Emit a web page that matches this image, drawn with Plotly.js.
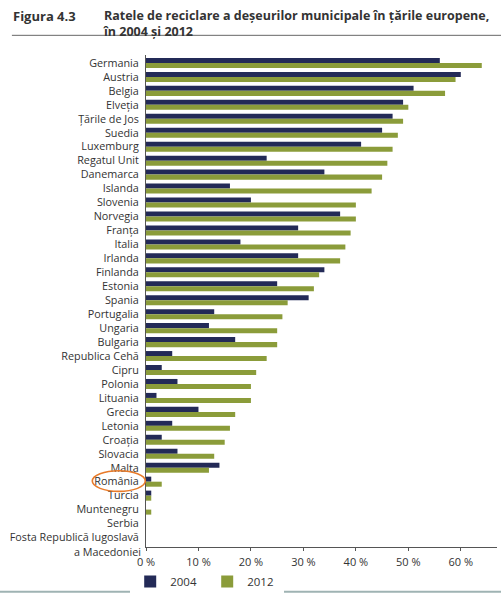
<!DOCTYPE html>
<html>
<head>
<meta charset="utf-8">
<script src="https://cdn.plot.ly/plotly-3.0.1.min.js"></script>
<style>
  html, body { margin: 0; padding: 0; background: #fff; }
  #chart { width: 501px; height: 600px; }
</style>
</head>
<body>
<div id="chart"></div>
<script>
// Countries, top to bottom
var countries = [
  "Germania", "Austria", "Belgia", "Elveția", "Țările de Jos", "Suedia",
  "Luxemburg", "Regatul Unit", "Danemarca", "Islanda", "Slovenia", "Norvegia",
  "Franța", "Italia", "Irlanda", "Finlanda", "Estonia", "Spania", "Portugalia",
  "Ungaria", "Bulgaria", "Republica Cehă", "Cipru", "Polonia", "Lituania",
  "Grecia", "Letonia", "Croația", "Slovacia", "Malta", "România", "Turcia",
  "Muntenegru", "Serbia", "Fosta Republică Iugoslavă a Macedoniei"
];

// Recycling rates (%)
var rate2004 = [56, 60, 51, 49, 47, 45, 41, 23, 34, 16, 20, 37, 29, 18, 29, 34,
  25, 31, 13, 12, 17, 5, 3, 6, 2, 10, 5, 3, 6, 14, 1, 1, 0, 0, 0];
var rate2012 = [64, 59, 57, 50, 49, 48, 47, 46, 45, 43, 40, 40, 39, 38, 37, 33,
  32, 27, 26, 25, 25, 23, 21, 20, 20, 17, 16, 15, 13, 12, 3, 1, 1, 0, 0];

var seriesNames = ["2004", "2012"];
var xTicks = [0, 10, 20, 30, 40, 50, 60];
var xTickText = xTicks.map(function (v) { return v + " %"; });

// the long last name is wrapped: first line as tick label, second as a note
var lastIdx = countries.length - 1;
var yTickText = countries.slice();
yTickText[lastIdx] = "Fosta Republică Iugoslavă";
var lastLine2 = "a Macedoniei";

var navy = "#232a57";
var green = "#8b9c3a";
var textColor = "#333333";
var labelSize = 10.8;

var data = [
  {
    type: "bar",
    orientation: "h",
    name: seriesNames[0],
    y: countries,
    x: rate2004,
    marker: {color: navy},
    hoverinfo: "x+y"
  },
  {
    type: "bar",
    orientation: "h",
    name: seriesNames[1],
    y: countries,
    x: rate2012,
    marker: {color: green},
    hoverinfo: "x+y"
  }
];

var layout = {
  width: 501,
  height: 600,
  margin: {l: 146, r: 4, t: 55, b: 49},
  paper_bgcolor: "#ffffff",
  plot_bgcolor: "#ffffff",
  font: {family: "Open Sans, sans-serif", size: 11, color: textColor},
  barmode: "group",
  bargap: 0.28,
  bargroupgap: 0,
  showlegend: true,
  legend: {
    orientation: "h",
    x: -0.045, xanchor: "left",
    y: -0.07, yanchor: "middle",
    font: {size: 11.5, color: textColor},
    itemwidth: 30,
    entrywidth: 32,
    entrywidthmode: "pixels",
    traceorder: "normal"
  },
  xaxis: {
    range: [0, 66.9],
    tickmode: "array",
    tickvals: xTicks,
    ticktext: xTickText,
    showgrid: false,
    zeroline: false,
    showline: true,
    linecolor: "#555555",
    linewidth: 1,
    ticks: "outside",
    ticklen: 3,
    tickcolor: "#555555",
    tickfont: {size: 11, color: textColor},
    ticklabelstandoff: 2,
    fixedrange: true
  },
  yaxis: {
    type: "category",
    range: [34.68, -0.57],
    tickmode: "array",
    tickvals: countries,
    ticktext: yTickText,
    showgrid: false,
    zeroline: false,
    showline: true,
    linecolor: "#555555",
    linewidth: 1,
    ticks: "",
    tickfont: {size: labelSize, color: textColor},
    ticklabelstandoff: 4,
    fixedrange: true
  },
  annotations: [
    {
      xref: "paper", yref: "paper",
      x: -0.385, y: 1.102, xanchor: "left", yanchor: "top",
      text: "<b>Figura 4.3</b>",
      showarrow: false,
      font: {size: 13, color: textColor}
    },
    {
      xref: "paper", yref: "paper",
      x: -0.128, y: 1.102, xanchor: "left", yanchor: "top",
      align: "left",
      text: "<b>Ratele de reciclare a deșeurilor municipale în țările europene,<br>în 2004 și 2012</b>",
      showarrow: false,
      font: {size: 12.5, color: textColor}
    },
    {
      xref: "paper", yref: "y",
      x: 0, y: countries[lastIdx], xanchor: "right", yanchor: "middle",
      xshift: -3, yshift: -13.5,
      text: lastLine2,
      showarrow: false,
      font: {size: labelSize, color: textColor}
    }
  ],
  shapes: [
    // rule under the title
    {
      type: "line", xref: "paper", yref: "paper",
      x0: -0.382, x1: 1.012, y0: 1.040, y1: 1.040,
      line: {color: "#666666", width: 1}
    },
    // rule at the bottom
    {
      type: "line", xref: "paper", yref: "paper",
      x0: -0.42, x1: 1.012, y0: -0.091, y1: -0.091,
      line: {color: "#9fb3b3", width: 2}
    },
    // ring around România
    {
      type: "circle", xref: "paper", yref: "paper",
      x0: -0.153, x1: -0.002, y0: 0.113, y1: 0.155,
      line: {color: "#e87b2a", width: 1.6}
    }
  ]
};

var config = {displayModeBar: false, staticPlot: true};

Plotly.newPlot("chart", data, layout, config);
</script>
</body>
</html>
